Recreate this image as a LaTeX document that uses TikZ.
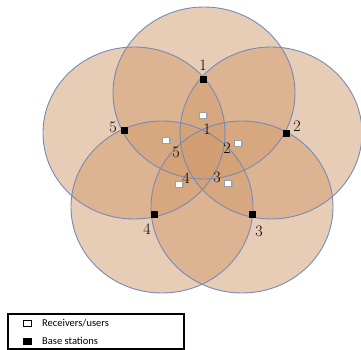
\documentclass[tikz,border=0pt]{standalone}
\usepackage{fontspec}
\newfontfamily\legendfont{Carlito}
\definecolor{peach}{RGB}{210,155,110}
\definecolor{rimblue}{RGB}{118,138,182}
\begin{document}
\begin{tikzpicture}[x=1pt,y=-1pt,
  cell/.style={fill=peach,fill opacity=0.5},
  rim/.style={draw=rimblue,line width=0.9pt},
  bs/.style={draw=black,fill=black,minimum width=6.5pt,minimum height=6.5pt,inner sep=0pt,outer sep=0pt},
  usr/.style={draw=gray!75,fill=white,minimum width=7pt,minimum height=6pt,inner sep=0pt,line width=0.6pt},
  num/.style={font=\fontsize{16}{16}\selectfont,inner sep=0pt},
  legsq/.style={draw=black,line width=0.5pt,minimum width=8pt,minimum height=6pt,inner sep=0pt},
  legtxt/.style={font=\legendfont\fontsize{10.5}{11}\selectfont,anchor=west,inner sep=0pt},
]
\useasboundingbox (0,0) rectangle (361,350);
% coverage areas
\foreach \cx/\cy in {204/93, 134/133, 271/133, 162/207, 242/207}{
  \fill[cell] (\cx,\cy) ellipse [x radius=91, y radius=86];
}
\foreach \cx/\cy in {204/93, 134/133, 271/133, 162/207, 242/207}{
  \draw[rim] (\cx,\cy) ellipse [x radius=91, y radius=86];
}
% base stations
\node[bs] (b1) at (203,79) {};
\node[bs] (b2) at (286,133) {};
\node[bs] (b3) at (252,214) {};
\node[bs] (b4) at (154,214) {};
\node[bs] (b5) at (124,130) {};
\node[num] (lb1) at (203,65) {1};
\node[num] (lb2) at (297,126) {2};
\node[num] (lb3) at (259,231) {3};
\node[num] (lb4) at (147,229) {4};
\node[num] (lb5) at (113,127) {5};
% receivers / users
\foreach \n/\x/\y in {1/203/115, 2/238/143, 3/228/183, 4/179/184, 5/166/140}{
  \fill[black!35] (\x-2.3,\y-1.8) rectangle (\x+4.8,\y+4.3);
  \node[usr] (u\n) at (\x,\y) {};
}
\node[num] (lu1) at (207,129) {1};
\node[num] (lu2) at (227,148) {2};
\node[num] (lu3) at (217,177) {3};
\node[num] (lu4) at (186,178) {4};
\node[num] (lu5) at (176,152) {5};
% legend
\node[draw=black,line width=2pt,minimum width=176pt,minimum height=35pt,inner sep=0pt] (leg) at (95.5,331) {};
\node[legsq,fill=white] (lsq1) at (27,323) {};
\node[legtxt] (lt1) at (42,323) {Receivers/users};
\node[legsq,fill=black] (lsq2) at (27,341) {};
\node[legtxt] (lt2) at (42,341) {Base stations};
\end{tikzpicture}
\end{document}
